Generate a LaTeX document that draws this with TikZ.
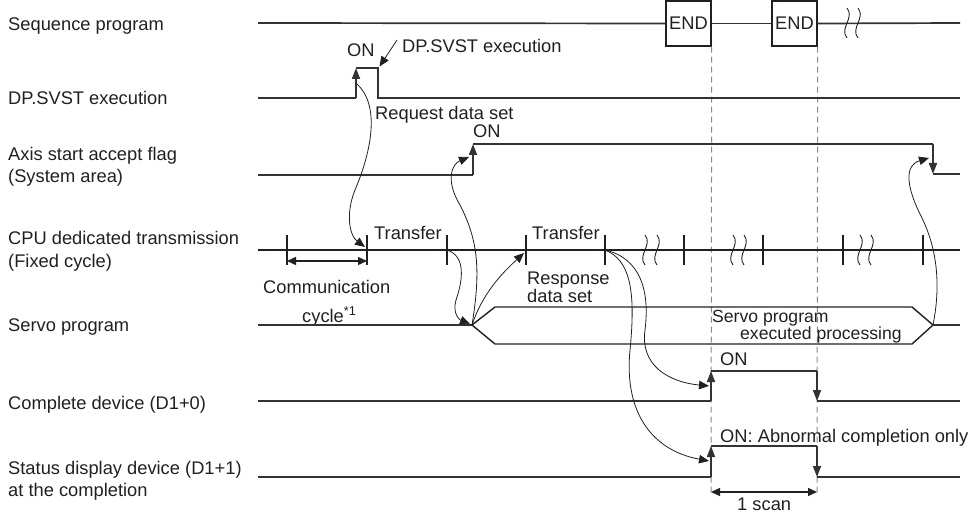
\documentclass[tikz,border=0pt]{standalone}
\usepackage{fontspec}
\setmainfont{Liberation Sans}
\usetikzlibrary{arrows.meta}
\definecolor{txt}{HTML}{231F20}
\definecolor{sigc}{HTML}{333333}
\definecolor{dashc}{HTML}{8A8A8A}
\begin{document}
\begin{tikzpicture}[x=1pt,y=-1pt,
  every node/.style={inner sep=0pt, text=txt},
  font=\fontsize{18.3}{22}\selectfont,
  lbl/.style={anchor=base west},
  sig/.style={line width=1.7pt, draw=sigc},
  tline/.style={line width=1.4pt, draw=txt},
  cur/.style={line width=0.8pt, draw=txt},
  edgetip/.style={-{Triangle[length=11pt,width=8pt]}},
  curtip/.style={-{Triangle[length=10pt,width=8.5pt]}},
  dimtip/.style={{Triangle[length=9pt,width=8pt]}-{Triangle[length=9pt,width=8pt]}},
  dashl/.style={line width=1pt, draw=dashc, dash pattern=on 6pt off 4pt},
  endbox/.style={draw=txt, line width=1.4pt, minimum width=45pt, minimum height=45pt},
  wavy/.style={line width=0.9pt, draw=txt}
]
\useasboundingbox (0,0) rectangle (972,513);

% ---------- left labels ----------
\node[lbl] (Lseq) at (8,31) {Sequence program};
\node[lbl] (Ldp) at (8,105) {DP.SVST execution};
\node[lbl] (Laxis) at (8,161) {Axis start accept flag};
\node[lbl] (Laxisb) at (8,183) {(System area)};
\node[lbl] (Lcpu) at (8,245) {CPU dedicated transmission};
\node[lbl] (Lcpub) at (8,267) {(Fixed cycle)};
\node[lbl] (Lsrv) at (8,331) {Servo program};
\node[lbl] (Lcmp) at (8,409) {Complete device (D1+0)};
\node[lbl] (Lsts) at (8,474) {Status display device (D1+1)};
\node[lbl] (Lstsb) at (8,496) {at the completion};

% ---------- sequence program ----------
\node[endbox] (end1) at (688.5,23.5) {END};
\node[endbox] (end2) at (794.5,23.5) {END};
\coordinate (seqS) at (258,23);
\coordinate (seqE) at (960,23);
\draw[sig] (seqS) -- (end1.west);
\draw[sig] (end1.east) -- (end2.west);
\draw[sig] (end2.east) -- (seqE);
\foreach \x in {847,858}
  \draw[wavy] (\x,8) .. controls (\x+8,18) and (\x-8,28) .. (\x,38);

% dashed guide lines
\coordinate (d1b) at (711,496);
\coordinate (d2b) at (817,496);
\draw[dashl] (end1.south east) -- (d1b);
\draw[dashl] (end2.south east) -- (d2b);

% ---------- DP.SVST execution ----------
\coordinate (dpS) at (258,98);
\coordinate (dpR) at (356,98);
\coordinate (dpRT) at (356,68);
\coordinate (dpFT) at (378,68);
\coordinate (dpF) at (378,98);
\coordinate (dpE) at (960,98);
\draw[sig] (dpS) -- (dpR);
\draw[sig, edgetip] (dpR) -- (dpRT);
\draw[sig] (dpRT) -- (dpFT) -- (dpF) -- (dpE);
\node[lbl] (dpon) at (347,57) {ON};
\node[lbl] (dpnote) at (402,53) {DP.SVST execution};
\coordinate (dpA) at (397,40);
\draw[cur, curtip] (dpA) -- (379.5,66.5);
\node[lbl] (reqset) at (375,120) {Request data set};

% ---------- axis start accept flag ----------
\coordinate (axS) at (258,175);
\coordinate (axR) at (473,175);
\coordinate (axRT) at (473,144);
\coordinate (axF) at (933,144);
\coordinate (axFB) at (933,174);
\coordinate (axE) at (960,174);
\draw[sig] (axS) -- (axR);
\draw[sig, edgetip] (axR) -- (axRT);
\draw[sig] (axRT) -- (axF);
\draw[sig, edgetip] (axF) -- (axFB);
\draw[sig] (axFB) -- (axE);
\node[lbl] (axon) at (473,138) {ON};

% ---------- CPU dedicated transmission ----------
\coordinate (txS) at (258,250);
\coordinate (txE) at (960,250);
\draw[tline] (txS) -- (txE);
\foreach \x/\n in {287/t0,367/t1,447/t2,526/t3,605/t4,684/t5,763/t6,843/t7,923/t8} {
  \coordinate (\n) at (\x,250);
  \draw[tline] (\x,235) -- (\x,265);
}
\foreach \x in {645,657,733,744,860,871}
  \draw[wavy] (\x,235) .. controls (\x+8,245) and (\x-8,255) .. (\x,265);
\node[lbl] (tr1) at (374,240) {Transfer};
\node[lbl] (tr2) at (532,240) {Transfer};
\coordinate (cA) at (287,261);
\coordinate (cB) at (367,261);
\draw[tline, dimtip] (cA) -- (cB);
\node[lbl] (comm) at (263,293) {Communication};
\node[lbl] (cyc) at (302,322) {cycle\textsuperscript{*1}};
\node[lbl] (resp) at (527,284) {Response};
\node[lbl] (resp2) at (527,302) {data set};

% ---------- servo program ----------
\coordinate (svS) at (258,325);
\coordinate (svL) at (472,325);
\coordinate (svR) at (933,325);
\coordinate (svE) at (960,325);
\draw[sig] (svS) -- (svL);
\draw[tline] (svL) -- (495,307) -- (912,307) -- (svR) -- (912,344) -- (495,344) -- cycle;
\draw[sig] (svR) -- (svE);
\node[lbl, font=\fontsize{17.6}{20}\selectfont] (svt1) at (712,322) {Servo program};
\node[lbl, font=\fontsize{17.6}{20}\selectfont] (svt2) at (740,339) {executed processing};

% ---------- complete device ----------
\coordinate (cpS) at (258,401);
\coordinate (cpR) at (711,401);
\coordinate (cpRT) at (711,371);
\coordinate (cpF) at (817,371);
\coordinate (cpFB) at (817,401);
\coordinate (cpE) at (960,401);
\draw[sig] (cpS) -- (cpR);
\draw[sig, edgetip] (cpR) -- (cpRT);
\draw[sig] (cpRT) -- (cpF);
\draw[sig, edgetip] (cpF) -- (cpFB);
\draw[sig] (cpFB) -- (cpE);
\node[lbl] (cpon) at (720,365) {ON};

% ---------- status display device ----------
\coordinate (stS) at (258,477);
\coordinate (stR) at (711,477);
\coordinate (stRT) at (711,446);
\coordinate (stF) at (817,446);
\coordinate (stFB) at (817,477);
\coordinate (stE) at (960,477);
\draw[sig] (stS) -- (stR);
\draw[sig, edgetip] (stR) -- (stRT);
\draw[sig] (stRT) -- (stF);
\draw[sig, edgetip] (stF) -- (stFB);
\draw[sig] (stFB) -- (stE);
\node[lbl] (ston) at (720,442) {ON: Abnormal completion only};
\coordinate (sA) at (711,492);
\coordinate (sB) at (817,492);
\draw[tline, dimtip] (sA) -- (sB);
\node[lbl] (scan) at (737,510) {1 scan};

% ---------- cause / effect curves ----------
\draw[cur, curtip] (357,84) .. controls (380,105) and (372,150) .. (355,190)
   .. controls (345,215) and (350,236) .. (365,247);
\draw[cur, curtip] (t2) .. controls (466,256) and (463,280) .. (456,300)
   .. controls (452,314) and (460,320) .. (470,324);
\draw[cur, curtip] (svL) .. controls (481,270) and (478,240) .. (460,205)
   .. controls (445,180) and (452,164) .. (469,157);
\draw[cur, curtip] (svL) .. controls (482,295) and (500,275) .. (524,253);
\draw[cur, curtip] (t4) .. controls (640,258) and (650,290) .. (645,330)
   .. controls (640,365) and (668,382) .. (709,386);
\draw[cur, curtip] (t4) .. controls (630,260) and (636,290) .. (630,350)
   .. controls (624,410) and (650,450) .. (709,461);
\draw[cur, curtip] (svR) .. controls (942,280) and (935,245) .. (922,218)
   .. controls (905,185) and (905,165) .. (929,158);
\end{tikzpicture}
\end{document}
